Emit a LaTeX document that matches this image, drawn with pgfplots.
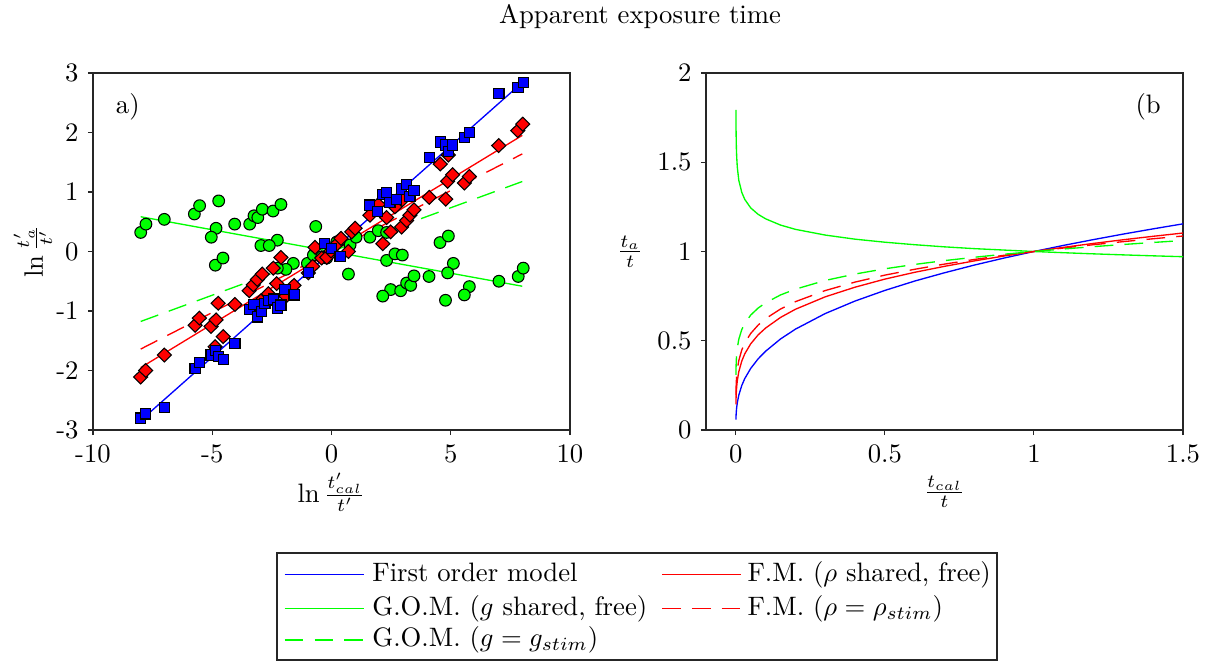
\documentclass[border=0pt]{standalone}
\usepackage{pgfplots}
\pgfplotsset{compat=1.18}
\pgfplotstableread{
x y
-8.0 -2.80
-7.79 -2.73
-7.01 -2.62
-5.72 -1.96
-5.54 -1.86
-5.05 -1.74
-4.86 -1.66
-4.75 -1.77
-4.54 -1.81
-4.05 -1.54
-3.42 -0.98
-3.25 -0.89
-3.11 -1.10
-2.93 -1.01
-2.79 -0.87
-2.62 -0.82
-2.44 -0.80
-2.27 -0.95
-2.12 -0.90
-1.95 -0.64
-1.57 -0.73
-0.97 -0.35
-0.30 0.13
0.00 0.05
0.36 -0.09
1.61 0.78
1.92 0.67
2.15 0.96
2.31 0.99
2.45 0.83
2.73 0.87
2.94 1.05
3.15 1.13
3.29 0.93
3.46 1.03
4.10 1.58
4.56 1.84
4.78 1.79
4.90 1.68
5.08 1.79
5.57 1.91
5.78 2.00
7.02 2.65
7.82 2.76
8.04 2.84
}\bluedata
\pgfplotstableread{
x y
-8.0 -2.11
-7.79 -2.00
-7.01 -1.74
-5.72 -1.24
-5.54 -1.12
-5.05 -1.26
-4.84 -1.15
-4.88 -1.60
-4.54 -1.43
-4.75 -0.87
-4.05 -0.89
-3.45 -0.66
-3.28 -0.56
-3.11 -0.47
-2.90 -0.38
-2.96 -0.83
-2.65 -0.71
-2.44 -0.28
-2.30 -0.54
-2.12 -0.10
-1.91 -0.75
-1.57 -0.57
-0.97 -0.36
-0.79 -0.25
-0.69 0.07
-0.41 -0.11
-0.20 -0.10
-0.02 0.01
0.19 0.11
0.40 0.22
0.71 0.00
0.85 0.33
0.99 0.39
1.61 0.61
1.96 0.79
2.15 0.13
2.31 0.57
2.48 0.33
2.66 0.75
2.97 0.87
2.94 0.41
3.15 0.52
3.29 0.61
3.46 0.70
4.10 0.91
4.56 1.47
4.79 0.88
4.87 1.18
5.08 1.29
4.90 1.62
5.57 1.15
5.78 1.26
7.01 1.78
7.81 2.03
8.02 2.14
}\reddata
\pgfplotstableread{
x y
-8.00 0.32
-7.78 0.46
-7.01 0.54
-5.75 0.63
-5.53 0.77
-4.73 0.85
-4.84 0.39
-5.04 0.24
-4.87 -0.23
-4.55 -0.11
-4.06 0.46
-3.43 0.46
-3.25 0.60
-3.09 0.57
-2.90 0.71
-2.45 0.68
-2.12 0.79
-2.27 0.19
-2.96 0.10
-2.61 0.10
-0.66 0.42
-1.60 -0.20
-1.91 -0.30
-2.27 -0.28
-1.01 -0.20
-0.76 -0.06
-0.41 -0.09
-0.20 -0.11
0.22 0.16
0.36 0.19
0.78 0.11
1.03 0.24
0.71 -0.38
1.61 0.24
1.96 0.35
2.31 0.32
2.31 -0.15
2.66 -0.04
2.97 -0.06
2.48 -0.64
2.15 -0.75
2.90 -0.66
3.15 -0.53
3.32 -0.57
3.46 -0.41
4.09 -0.42
4.55 0.15
4.90 0.26
5.11 -0.20
4.87 -0.36
4.78 -0.82
5.78 -0.59
5.57 -0.73
7.02 -0.50
7.83 -0.42
8.04 -0.28
}\greendata
\pgfplotstableread{
x fom fm fmd gomd gom
0.000335 0.0584 0.1431 0.1940 0.3085 1.793
0.0005 0.0673 0.1577 0.2105 0.3272 1.742
0.001 0.0861 0.1866 0.2427 0.3624 1.656
0.002 0.1101 0.2209 0.2797 0.4010 1.574
0.003 0.1272 0.2437 0.3040 0.4257 1.528
0.005 0.1525 0.2761 0.3375 0.4589 1.472
0.01 0.1950 0.3266 0.3891 0.5082 1.399
0.02 0.2494 0.3864 0.4484 0.5627 1.331
0.03 0.2880 0.4265 0.4873 0.5971 1.292
0.05 0.3452 0.4829 0.5411 0.6440 1.244
0.075 0.3989 0.5331 0.5880 0.6833 1.208
0.1 0.4414 0.5712 0.6238 0.7126 1.183
0.15 0.5100 0.6307 0.6778 0.7566 1.148
0.2 0.5650 0.6764 0.7190 0.7890 1.124
0.3 0.6524 0.7461 0.7812 0.8378 1.092
0.4 0.7225 0.8001 0.8286 0.8737 1.069
0.5 0.7819 0.8453 0.8676 0.9031 1.052
0.6 0.8344 0.8834 0.9003 0.9276 1.038
0.7 0.8808 0.9169 0.9294 0.9489 1.026
0.8 0.9239 0.9472 0.9553 0.9677 1.016
0.9 0.9634 0.9748 0.9787 0.9847 1.008
1.0 1.0000 1.0000 1.0000 1.0000 1.000
1.1 1.0344 1.0234 1.0197 1.0141 0.9931
1.2 1.0668 1.0453 1.0381 1.0272 0.9868
1.3 1.0977 1.0659 1.0553 1.0393 0.9810
1.4 1.1269 1.0852 1.0714 1.0507 0.9757
1.5 1.1549 1.1035 1.0867 1.0614 0.9708
}\curves
\begin{document}
\begin{tikzpicture}
\path[use as bounding box] (0,0) rectangle (453pt,-248.25pt);
\node[anchor=center] at (240pt,-6.3pt) {Apparent exposure time};
\pgfplotsset{
  myaxis/.style={
    scale only axis, width=178.875pt, height=133.875pt, anchor=north west,
    axis line style={black!85, line width=0.4pt},
    tick style={black!85, line width=0.4pt},
    tick align=outside, major tick length=1.9pt, tick pos=left,
    mydash/.style={dash pattern=on 7pt off 4.2pt},
  },
}
\begin{axis}[myaxis, at={(34.875pt,-27.375pt)},
  xmin=-10, xmax=10, ymin=-3, ymax=3,
  xtick={-10,-5,0,5,10}, xticklabels={-10,-5,0,5,10},
  ytick={-3,-2,-1,0,1,2,3}, yticklabels={-3,-2,-1,0,1,2,3},
  xlabel={$\ln\frac{t'_{cal}}{t'}$},
  ylabel={$\ln\frac{t'_a}{t'}$},
  xlabel style={at={(axis description cs:0.5,-0.174)}, anchor=center},
  ylabel style={at={(axis description cs:-0.126,0.5)}, anchor=center},
]
\addplot[draw=blue, line width=0.5pt] coordinates {(-8,-2.84) (8,2.84)};
\addplot[draw=red, line width=0.5pt] coordinates {(-8,-1.952) (8,1.952)};
\addplot[draw=green, line width=0.5pt] coordinates {(-8,0.584) (8,-0.584)};
\addplot[draw=red, line width=0.5pt, mydash] coordinates {(-8,-1.64) (8,1.64)};
\addplot[draw=green, line width=0.5pt, mydash] coordinates {(-8,-1.176) (8,1.176)};
\addplot[only marks, mark=*, mark size=2.2pt, mark options={fill=green, draw=black, line width=0.4pt}] table[x=x,y=y] {\greendata};
\addplot[only marks, mark=diamond*, mark size=2.6pt, mark options={fill=red, draw=black, line width=0.4pt, xscale=1.35}] table[x=x,y=y] {\reddata};
\addplot[only marks, mark=square*, mark size=1.9pt, mark options={fill=blue, draw=black, line width=0.4pt}] table[x=x,y=y] {\bluedata};
\node at (rel axis cs:0.073,0.905) {a)};
\end{axis}
\begin{axis}[myaxis, at={(264.75pt,-27.375pt)},
  xmin=-0.1, xmax=1.5, ymin=0, ymax=2, clip=false,
  xtick={0,0.5,1,1.5}, xticklabels={0,0.5,1,1.5},
  ytick={0,0.5,1,1.5,2}, yticklabels={0,0.5,1,1.5,2},
  xlabel={$\frac{t_{cal}}{t}$},
  ylabel={$\frac{t_a}{t}$},
  xlabel style={at={(axis description cs:0.5,-0.174)}, anchor=center},
  ylabel style={at={(axis description cs:-0.159,0.5)}, anchor=center, rotate=-90},
]
\addplot[draw=blue, line width=0.5pt] table[x=x,y=fom] {\curves};
\addplot[draw=red, line width=0.5pt] table[x=x,y=fm] {\curves};
\addplot[draw=green, line width=0.5pt] table[x=x,y=gom] {\curves};
\addplot[draw=red, line width=0.5pt, mydash] table[x=x,y=fmd] {\curves};
\addplot[draw=green, line width=0.5pt, mydash] table[x=x,y=gomd] {\curves};
\node at (rel axis cs:0.927,0.905) {(b};
% legend (drawn below the axes, in axis units)
\draw[black!85, line width=0.4pt, fill=white] (axis cs:-1.539,-0.689) rectangle (axis cs:0.876,-1.2885);
\addplot[draw=blue, line width=0.5pt, forget plot] coordinates {(-1.5132,-0.8084) (-1.2482,-0.8084)};
\addplot[draw=red, line width=0.5pt, forget plot] coordinates {(-0.2476,-0.8084) (0.0174,-0.8084)};
\addplot[draw=green, line width=0.5pt, forget plot] coordinates {(-1.5132,-0.9989) (-1.2482,-0.9989)};
\addplot[draw=red, line width=0.5pt, mydash, forget plot] coordinates {(-0.2476,-0.9989) (0.0174,-0.9989)};
\addplot[draw=green, line width=0.5pt, mydash, forget plot] coordinates {(-1.5132,-1.1765) (-1.2482,-1.1765)};
\node[anchor=base west, inner sep=0pt, yshift=-2.6pt] at (axis cs:-1.2210,-0.8084) {First order model};
\node[anchor=base west, inner sep=0pt, yshift=-2.6pt] at (axis cs:0.0375,-0.8084) {F.M. ($\rho$ shared, free)};
\node[anchor=base west, inner sep=0pt, yshift=-2.6pt] at (axis cs:-1.2210,-0.9989) {G.O.M. ($g$ shared, free)};
\node[anchor=base west, inner sep=0pt, yshift=-2.6pt] at (axis cs:0.0375,-0.9989) {F.M. ($\rho=\rho_{stim}$)};
\node[anchor=base west, inner sep=0pt, yshift=-2.6pt] at (axis cs:-1.2210,-1.1765) {G.O.M. ($g=g_{stim}$)};
\end{axis}
\end{tikzpicture}
\end{document}
